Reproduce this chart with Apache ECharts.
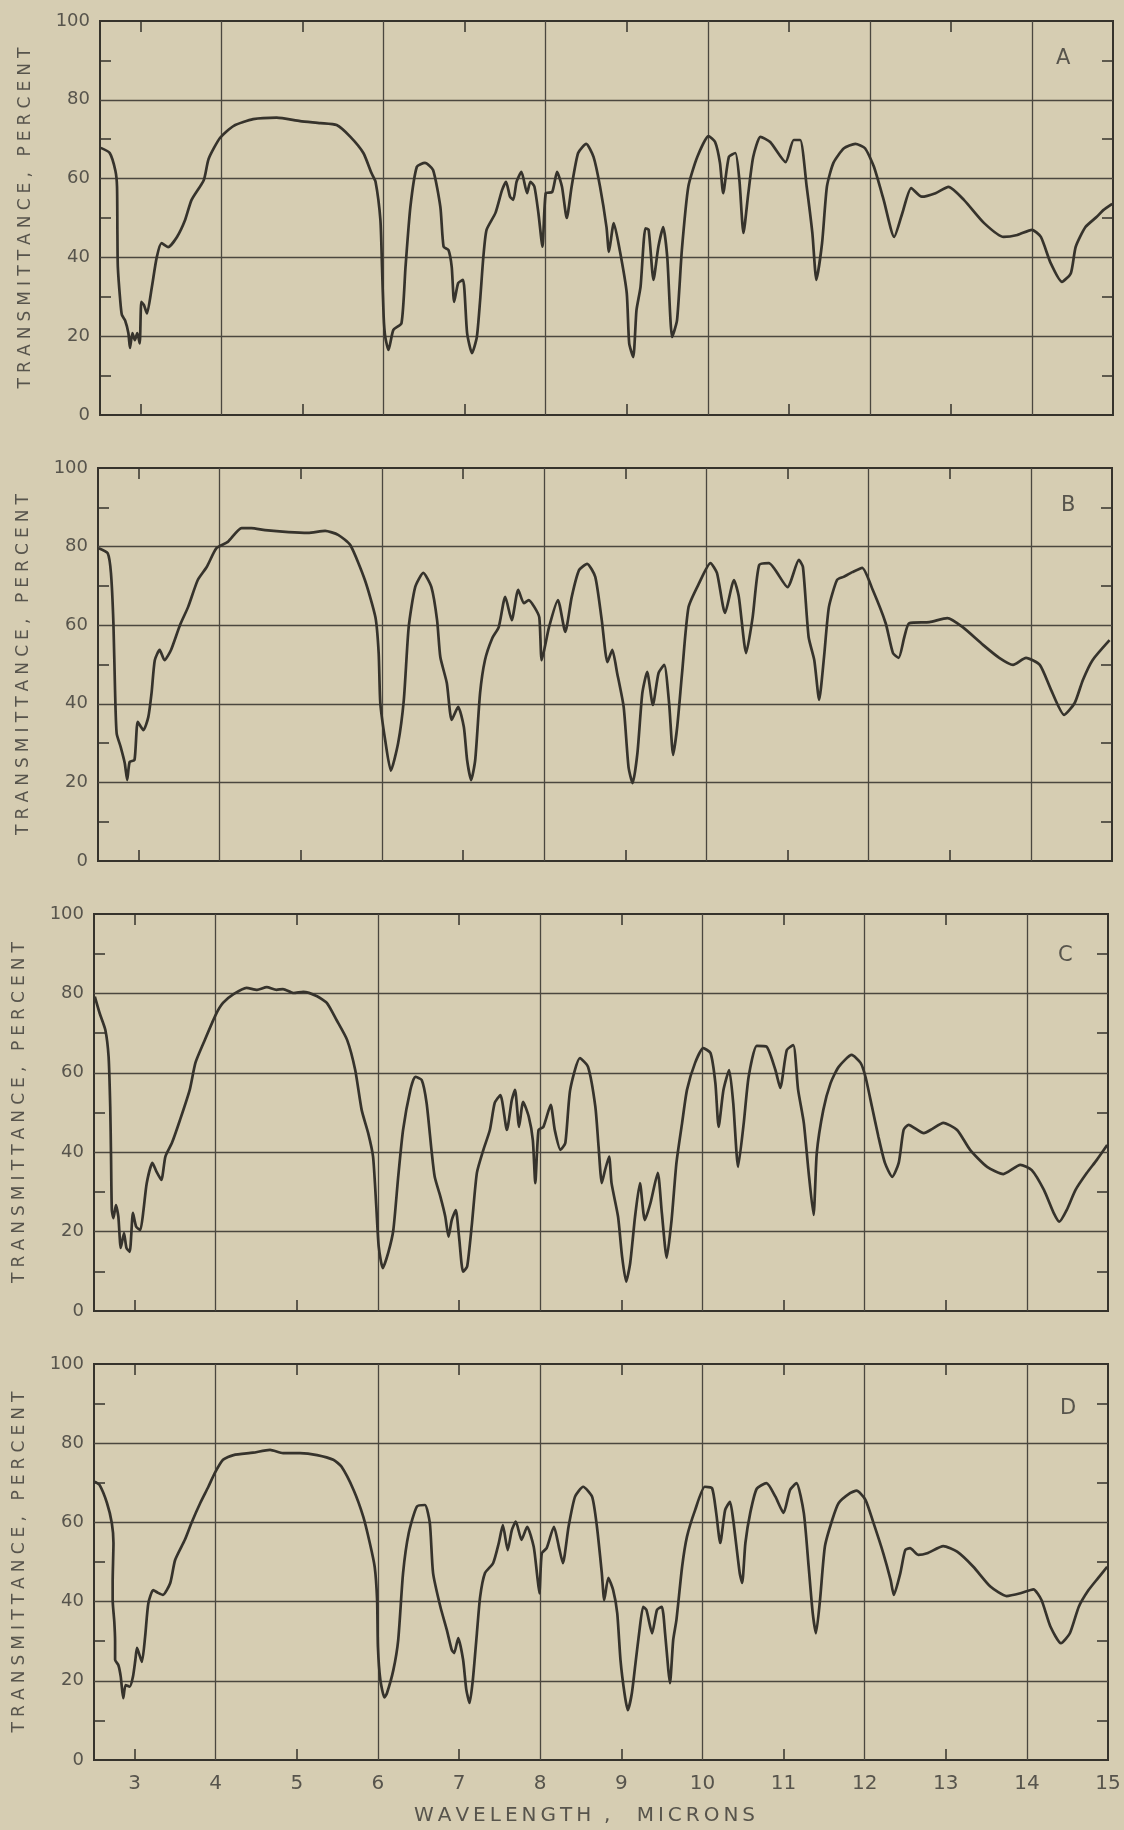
<!DOCTYPE html>
<html>
<head>
<meta charset="utf-8">
<script src="https://cdn.jsdelivr.net/npm/echarts@6/dist/echarts.min.js"></script>
<style>
  html, body { margin: 0; padding: 0; background: #d6cdb2; }
  #chart { width: 1124px; height: 1830px; }
</style>
</head>
<body>
<div id="chart"></div>
<script>
// wavelength (microns) / transmittance (percent)
const waveA = [2.51, 2.62, 2.69, 2.71, 2.715, 2.72, 2.75, 2.77, 2.81, 2.85, 2.87, 2.90, 2.93, 2.96, 2.99, 3.01, 3.04, 3.08, 3.14, 3.20,
  3.26, 3.34, 3.45, 3.55, 3.63, 3.78, 3.84, 3.98, 4.15, 4.39, 4.68, 4.97, 5.22, 5.42, 5.59, 5.75, 5.85, 5.90, 5.96, 5.98,
  6.00, 6.02, 6.06, 6.12, 6.22, 6.27, 6.33, 6.41, 6.51, 6.61, 6.70, 6.74, 6.80, 6.84, 6.87, 6.92, 6.98, 7.03, 7.09, 7.15,
  7.19, 7.23, 7.27, 7.38, 7.46, 7.51, 7.56, 7.60, 7.64, 7.70, 7.77, 7.81, 7.86, 7.91, 7.96, 8.00, 8.08, 8.14, 8.20, 8.26,
  8.32, 8.40, 8.50, 8.59, 8.67, 8.75, 8.78, 8.84, 8.92, 9.00, 9.03, 9.08, 9.12, 9.17, 9.23, 9.27, 9.33, 9.39, 9.45, 9.50,
  9.56, 9.62, 9.68, 9.76, 9.87, 10.01, 10.09, 10.15, 10.19, 10.26, 10.34, 10.39, 10.44, 10.50, 10.56, 10.65, 10.77, 10.96, 11.06, 11.14,
  11.22, 11.29, 11.34, 11.41, 11.47, 11.55, 11.68, 11.82, 11.94, 12.05, 12.17, 12.30, 12.40, 12.51, 12.64, 12.81, 12.97, 13.16, 13.41, 13.65,
  13.82, 14.00, 14.11, 14.23, 14.37, 14.48, 14.54, 14.66, 14.80, 14.88, 14.99];
const transA = [67.8, 66.5, 62, 58, 46, 37.6, 29, 25.4, 24, 20.8, 17, 20.8, 19, 20.8, 18.2, 28.7, 28, 25.8, 32.5, 40,
  43.6, 42.6, 45.2, 49.5, 54.6, 59.6, 65, 70.3, 73.4, 75.1, 75.5, 74.6, 74.1, 73.6, 70.6, 66.5, 61.4, 59.2, 49.5, 37.6,
  25, 19.8, 16.5, 21.6, 23.3, 37.6, 52.8, 63, 64, 62.2, 52.8, 42.7, 41.9, 37.6, 28.7, 33.5, 34.3, 20.8, 15.7, 19.8,
  29, 40, 47, 51.3, 57, 59.2, 55.4, 54.6, 59.2, 61.7, 56.3, 59.2, 58, 51.2, 42.7, 56.3, 56.6, 61.7, 58, 50,
  58, 66.5, 68.8, 65.5, 58, 47.7, 41.4, 48.7, 41.1, 30.9, 18.2, 14.7, 26.6, 32.5, 47.4, 47, 34.3, 42.7, 47.7, 40,
  19.8, 24, 41.9, 58, 65.5, 70.8, 69.3, 64, 56.3, 65.5, 66.5, 59.6, 46.2, 56.3, 65.5, 70.6, 69.3, 64.2, 69.8, 69.8,
  58, 46.2, 34.3, 43.6, 58, 64, 67.7, 68.8, 67.7, 63, 54.6, 45.2, 51.2, 57.6, 55.4, 56.3, 57.9, 54.6, 48.7, 45.2,
  45.7, 47, 45.2, 38.6, 33.8, 36, 42.7, 47.7, 50.3, 52, 53.6];

const waveB = [2.51, 2.62, 2.66, 2.69, 2.71, 2.73, 2.78, 2.83, 2.86, 2.89, 2.95, 2.99, 3.06, 3.12, 3.16, 3.20, 3.26, 3.32, 3.40, 3.51,
  3.61, 3.73, 3.84, 3.96, 4.10, 4.27, 4.39, 4.56, 4.85, 5.09, 5.30, 5.46, 5.61, 5.79, 5.92, 5.96, 5.98, 6.04, 6.11, 6.20,
  6.27, 6.33, 6.41, 6.51, 6.61, 6.68, 6.72, 6.80, 6.86, 6.94, 7.01, 7.05, 7.10, 7.15, 7.21, 7.27, 7.36, 7.44, 7.52, 7.60,
  7.68, 7.75, 7.81, 7.88, 7.94, 7.97, 8.06, 8.17, 8.26, 8.34, 8.43, 8.53, 8.63, 8.71, 8.78, 8.84, 8.90, 8.98, 9.04, 9.09,
  9.15, 9.21, 9.27, 9.34, 9.41, 9.48, 9.54, 9.59, 9.64, 9.70, 9.78, 9.91, 10.05, 10.13, 10.23, 10.34, 10.40, 10.49, 10.57, 10.65,
  10.77, 11.00, 11.14, 11.19, 11.26, 11.33, 11.39, 11.45, 11.51, 11.61, 11.69, 11.80, 11.92, 12.05, 12.21, 12.30, 12.37, 12.44, 12.50, 12.75,
  12.97, 13.16, 13.41, 13.61, 13.78, 13.94, 14.11, 14.25, 14.41, 14.54, 14.64, 14.76, 14.97];
const transB = [79.6, 78.3, 73.2, 60.5, 43.5, 32.5, 29, 24.9, 20.6, 25.2, 25.7, 35.4, 33.3, 36.6, 42.7, 51.1, 53.7, 51.1, 53.7, 60,
  64.6, 71.5, 74.8, 79.6, 81.2, 84.7, 84.7, 84.2, 83.7, 83.5, 84, 83, 80.4, 71.5, 62, 52.9, 40.2, 30.8, 23, 30,
  41, 59.5, 69.7, 73.3, 69.7, 61.3, 51.9, 45.3, 35.9, 39.2, 34.1, 25.7, 20.6, 25.7, 42.7, 51.1, 56.7, 59.5, 67.2, 61.3,
  69, 65.6, 66.4, 64.6, 62, 51.1, 59.5, 66.4, 58.3, 67.2, 74, 75.6, 72.3, 61.3, 50.6, 53.7, 47.8, 39.2, 23.9, 19.8,
  27.5, 42.7, 48.1, 39.7, 47.8, 49.9, 40.2, 27, 34.1, 47.8, 64.6, 70.7, 75.8, 73.3, 63.1, 71.5, 67.2, 52.9, 62, 75.3,
  75.8, 69.7, 76.6, 74.8, 57, 51.1, 41, 51.9, 64.6, 71.5, 72.3, 73.5, 74.6, 69, 60.5, 52.9, 51.7, 57, 60.5, 60.8,
  61.8, 59.5, 55, 51.7, 49.9, 51.7, 49.9, 43.5, 37.2, 40.2, 46, 51.1, 56.2];

const waveC = [2.51, 2.57, 2.64, 2.68, 2.70, 2.71, 2.72, 2.74, 2.77, 2.80, 2.83, 2.87, 2.90, 2.94, 2.98, 3.02, 3.07, 3.11, 3.15, 3.22,
  3.27, 3.33, 3.38, 3.46, 3.56, 3.68, 3.75, 3.85, 4.00, 4.09, 4.22, 4.38, 4.51, 4.63, 4.75, 4.83, 4.96, 5.08, 5.25, 5.37,
  5.49, 5.62, 5.72, 5.80, 5.88, 5.94, 5.98, 6.01, 6.06, 6.13, 6.19, 6.25, 6.31, 6.40, 6.46, 6.54, 6.60, 6.66, 6.70, 6.77,
  6.83, 6.87, 6.91, 6.96, 7.00, 7.05, 7.10, 7.16, 7.22, 7.30, 7.38, 7.44, 7.51, 7.59, 7.65, 7.69, 7.74, 7.79, 7.86, 7.91,
  7.94, 7.98, 8.04, 8.13, 8.18, 8.25, 8.31, 8.37, 8.49, 8.59, 8.68, 8.72, 8.76, 8.80, 8.85, 8.88, 8.96, 9.01, 9.06, 9.11,
  9.17, 9.23, 9.29, 9.36, 9.45, 9.50, 9.56, 9.62, 9.68, 9.75, 9.81, 9.91, 10.01, 10.10, 10.16, 10.20, 10.26, 10.33, 10.38, 10.44,
  10.51, 10.57, 10.67, 10.79, 10.90, 10.96, 11.04, 11.12, 11.18, 11.25, 11.31, 11.37, 11.41, 11.49, 11.58, 11.68, 11.84, 11.95, 12.01, 12.09,
  12.17, 12.25, 12.34, 12.42, 12.48, 12.54, 12.73, 12.83, 12.97, 13.14, 13.30, 13.51, 13.71, 13.92, 14.06, 14.21, 14.33, 14.40, 14.49, 14.60,
  14.74, 14.86, 14.99];
const transC = [79.2, 75, 70.8, 64, 51.5, 38.9, 25.4, 23.4, 26.7, 23.8, 15.9, 19.6, 15.9, 14.9, 24.7, 21.2, 20.4, 25.4, 32.2, 37.3,
  35.1, 33, 38.9, 42.3, 48.1, 55.7, 62.5, 67.5, 74.6, 77.6, 79.8, 81.4, 80.9, 81.6, 80.9, 81.1, 80.1, 80.4, 79.3, 77.6,
  73.3, 68.3, 60.7, 50.6, 44.8, 38.9, 26.3, 16.2, 10.8, 14.9, 20.4, 33.8, 45.6, 55.7, 59, 58.2, 52.4, 40.6, 33.8, 28.8,
  23.8, 18.7, 22.9, 25.4, 18.7, 9.9, 11.2, 22.2, 34.8, 40.6, 45.6, 52.4, 54.4, 45.6, 53.1, 55.7, 46.4, 52.7, 48.9, 43,
  32.2, 45.6, 46.4, 51.9, 45.6, 40.6, 42.3, 55.7, 63.7, 61.5, 51.5, 41.4, 32.2, 35.5, 38.9, 32.2, 23.8, 13.7, 7.4, 12.1,
  23.8, 32.2, 22.9, 27.2, 34.8, 24.7, 13.4, 22.9, 37.3, 47.4, 55.7, 62.5, 66.2, 65, 57.4, 46.4, 55.7, 60.7, 52.4, 36.3,
  47.4, 59, 66.8, 66.6, 60.7, 56.2, 65.7, 67, 55.7, 47.4, 34.8, 24.2, 39.8, 50.6, 57.4, 61.5, 64.5, 62.5, 59, 51.5,
  43.9, 37.3, 33.8, 37.3, 45.6, 46.9, 44.8, 45.8, 47.4, 45.6, 40.6, 36.3, 34.5, 36.8, 35.5, 30.5, 24.7, 22.5, 25.4, 30.5,
  34.8, 38, 41.8];

const waveD = [2.51, 2.57, 2.66, 2.72, 2.74, 2.73, 2.73, 2.75, 2.76, 2.76, 2.80, 2.83, 2.86, 2.89, 2.94, 2.98, 3.01, 3.03, 3.09, 3.13,
  3.17, 3.23, 3.29, 3.35, 3.44, 3.50, 3.62, 3.70, 3.81, 3.91, 3.99, 4.09, 4.22, 4.46, 4.67, 4.83, 5.04, 5.25, 5.45, 5.55,
  5.70, 5.82, 5.90, 5.96, 5.99, 6.00, 6.03, 6.08, 6.11, 6.19, 6.25, 6.31, 6.38, 6.48, 6.58, 6.64, 6.68, 6.77, 6.85, 6.91,
  6.94, 6.99, 7.05, 7.09, 7.13, 7.17, 7.22, 7.26, 7.32, 7.42, 7.49, 7.54, 7.60, 7.65, 7.70, 7.77, 7.84, 7.92, 7.96, 7.99,
  8.02, 8.08, 8.17, 8.23, 8.28, 8.35, 8.43, 8.53, 8.64, 8.70, 8.76, 8.79, 8.84, 8.90, 8.95, 8.99, 9.04, 9.08, 9.13, 9.18,
  9.22, 9.27, 9.31, 9.38, 9.44, 9.50, 9.54, 9.58, 9.60, 9.64, 9.68, 9.75, 9.81, 9.91, 10.03, 10.12, 10.17, 10.22, 10.28, 10.34,
  10.38, 10.46, 10.49, 10.53, 10.59, 10.67, 10.79, 10.90, 11.00, 11.08, 11.16, 11.25, 11.31, 11.36, 11.40, 11.45, 11.51, 11.60, 11.68, 11.82,
  11.90, 12.01, 12.11, 12.23, 12.32, 12.36, 12.44, 12.50, 12.56, 12.66, 12.77, 12.97, 13.14, 13.34, 13.55, 13.75, 13.92, 14.08, 14.18, 14.29,
  14.42, 14.53, 14.64, 14.76, 14.88, 14.99];
const transD = [70.3, 69.4, 64.9, 59.8, 54.8, 45, 40.4, 35, 30, 25.3, 24, 21, 15.6, 18.9, 18.5, 21, 25.3, 28.3, 24.8, 31.1,
  39.6, 42.9, 42.2, 41.7, 44.7, 50.5, 55.6, 59.8, 64.9, 69, 72.5, 75.8, 77, 77.6, 78.3, 77.5, 77.5, 77, 75.8, 74.1,
  68.2, 61.4, 54.8, 48.8, 40.4, 28.6, 20.2, 15.8, 16.8, 22.7, 30.3, 47.2, 57.3, 64, 64.4, 59.8, 47.2, 38.7, 32.8, 27.8,
  27, 30.8, 25.3, 17.7, 14.4, 20.2, 32, 41.2, 47.2, 49.7, 54.8, 59.3, 53, 58, 60.2, 55.6, 58.9, 53.9, 47.2, 42.1,
  52.2, 53.5, 58.9, 53.9, 49.7, 58.9, 66.5, 69, 66.5, 58.9, 47.2, 40.4, 46, 42.9, 37.1, 25.3, 16.8, 12.6, 16.8, 25.3,
  32, 38.7, 37.9, 32, 37.9, 38.7, 32, 22.7, 19.4, 30.3, 35.4, 48.8, 56.4, 63.1, 69, 68.6, 62.4, 54.8, 63.1, 65.2,
  60.6, 47.2, 44.7, 54.8, 62.4, 68.5, 69.9, 66.5, 62.4, 68.2, 69.9, 62.4, 48.8, 37.1, 32, 40.4, 53.9, 60.6, 64.9, 67.4,
  68, 65.7, 59.8, 52.2, 45.5, 41.7, 47.2, 53, 53.5, 51.8, 52.2, 54, 52.6, 48.8, 43.8, 41.4, 42.1, 43.1, 40.4, 33.7,
  29.5, 32, 38.7, 42.9, 46, 48.8];

const panelNames = ['A', 'B', 'C', 'D'];
const yTicks = [0, 20, 40, 60, 80, 100];

const ink = '#36332c';
const gridInk = '#4b473f';
const textInk = '#57544c';
const font = 'DejaVu Sans';

function spaced(s, gap) {
    return s.split('').join(gap);
}

function zip(xs, ys) {
    return xs.map((x, i) => [x, ys[i]]);
}

const traces = [[waveA, transA], [waveB, transB], [waveC, transC], [waveD, transD]];

const boxes = [
    { top: 21, height: 394, left: 100, right: 11, letterX: 1056, letterY: 48 },
    { top: 468, height: 393, left: 98, right: 12, letterX: 1061, letterY: 495 },
    { top: 914, height: 397, left: 94, right: 16, letterX: 1058, letterY: 945 },
    { top: 1364, height: 396, left: 94, right: 16, letterX: 1060, letterY: 1398 }
];

let grid = [];
let xAxis = [];
let yAxis = [];
let series = [];
let title = [];

boxes.forEach((b, i) => {
    grid.push({
        top: b.top, height: b.height, left: b.left, right: b.right,
        show: true, borderColor: ink, borderWidth: 2, backgroundColor: 'transparent'
    });

    const minor = { show: true, splitNumber: 2, length: 11, lineStyle: { color: ink, width: 1.5 } };
    const gridLine = { show: true, showMinLine: false, showMaxLine: false, lineStyle: { color: gridInk, width: 1.3 } };

    ['bottom', 'top'].forEach(pos => {
        xAxis.push({
            type: 'value', gridIndex: i, position: pos,
            min: 2.5, max: 15, minInterval: 2, maxInterval: 2,
            axisLine: { show: false, onZero: false },
            axisTick: { show: false, inside: true },
            minorTick: minor,
            axisLabel: { show: false },
            splitLine: pos === 'bottom' ? gridLine : { show: false }
        });
    });

    ['left', 'right'].forEach(pos => {
        yAxis.push({
            type: 'value', gridIndex: i, position: pos,
            min: 0, max: 100, interval: 20,
            name: pos === 'left' ? spaced('TRANSMITTANCE, PERCENT', '\u2009\u200a') : '',
            nameLocation: 'middle', nameGap: 66,
            nameTextStyle: { color: textInk, fontSize: 17, fontFamily: font },
            axisLine: { show: false, onZero: false },
            axisTick: { show: false, inside: true },
            minorTick: minor,
            axisLabel: {
                show: pos === 'left', color: textInk, fontSize: 18, fontFamily: font, margin: 10,
                formatter: v => yTicks.includes(v) ? String(v) : ''
            },
            splitLine: pos === 'left' ? gridLine : { show: false }
        });
    });

    series.push({
        type: 'line',
        xAxisIndex: 2 * i,
        yAxisIndex: 2 * i,
        data: zip(traces[i][0], traces[i][1]),
        showSymbol: false,
        smooth: 0.2,
        silent: true,
        lineStyle: { color: ink, width: 2.7 }
    });

    title.push({
        text: panelNames[i], left: b.letterX, top: b.letterY, padding: 0,
        textStyle: { color: textInk, fontSize: 21, fontWeight: 'normal', fontFamily: font }
    });
});

// wavelength labels under the last panel, one per micron
xAxis.push({
    type: 'value', gridIndex: 3, position: 'bottom',
    min: 2.5, max: 15, interval: 0.5,
    axisLine: { show: false, onZero: false },
    axisTick: { show: false },
    splitLine: { show: false },
    axisLabel: {
        color: textInk, fontSize: 20, fontFamily: font, margin: 14,
        formatter: v => Number.isInteger(v) ? String(v) : ''
    }
});

const chart = echarts.init(document.getElementById('chart'), null, { renderer: 'canvas' });

chart.setOption({
    backgroundColor: '#d6cdb2',
    animation: false,
    title: title,
    grid: grid,
    xAxis: xAxis,
    yAxis: yAxis,
    series: series,
    graphic: [{
        type: 'text', left: 414, top: 1806,
        style: {
            text: spaced('WAVELENGTH', '\u2009') + '  ,\u2003 ' + spaced('MICRONS', '\u2009'),
            fill: textInk, fontSize: 20, fontFamily: font
        }
    }]
});
</script>
</body>
</html>
